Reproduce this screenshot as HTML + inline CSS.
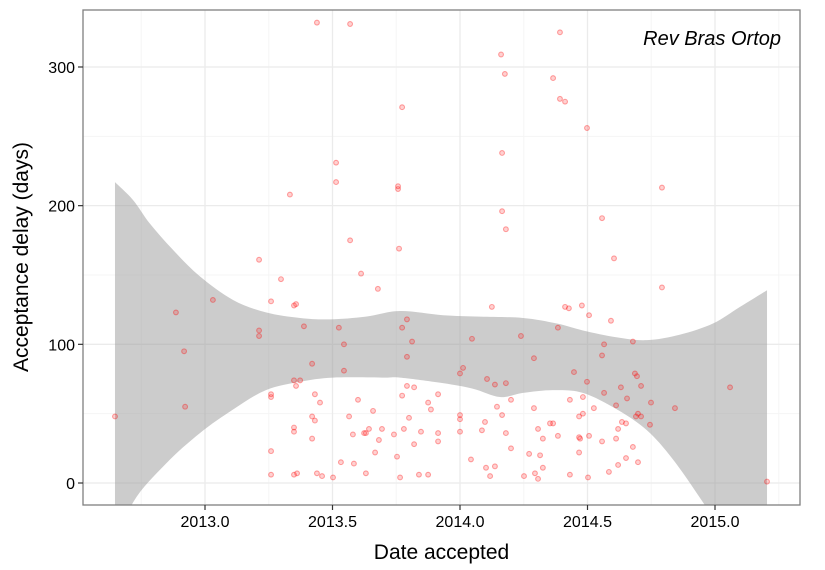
<!DOCTYPE html>
<html><head><meta charset="utf-8"><style>
html,body{margin:0;padding:0;background:#fff;width:825px;height:570px;overflow:hidden}
svg{display:block;font-family:"Liberation Sans",sans-serif}
</style></head><body>
<svg id="chart" width="825" height="570"></svg>
<script>
const pointYears=[2012.647,2012.886,2012.918,2012.922,2013.031,2013.212,2013.212,2013.212,2013.259,2013.259,2013.259,2013.259,2013.259,2013.298,2013.333,2013.349,2013.349,2013.357,2013.373,2013.388,2013.349,2013.357,2013.361,2013.349,2013.349,2013.420,2013.420,2013.420,2013.431,2013.439,2013.439,2013.451,2013.459,2013.514,2013.514,2013.525,2013.533,2013.545,2013.545,2013.565,2013.569,2013.569,2013.580,2013.584,2013.600,2013.612,2013.624,2013.631,2013.631,2013.643,2013.659,2013.667,2013.678,2013.682,2013.694,2013.741,2013.753,2013.757,2013.757,2013.761,2013.765,2013.773,2013.773,2013.773,2013.780,2013.792,2013.792,2013.792,2013.800,2013.812,2013.820,2013.820,2013.839,2013.847,2013.875,2013.875,2013.886,2013.914,2013.914,2013.914,2013.502,2013.431,
2014.392,2014.161,2014.176,2014.365,2014.392,2014.412,2014.498,2014.165,2014.792,2014.165,2014.557,2014.180,2014.604,2014.792,2014.125,2014.412,2014.427,2014.478,2014.506,2014.592,2014.384,2014.239,2014.047,2014.565,2014.678,2014.290,2014.557,2014.012,2014.000,2014.447,2014.106,2014.137,2014.180,2014.498,2014.686,2014.694,2014.631,2014.710,2015.059,2014.565,2014.200,2014.431,2014.482,2014.655,2014.749,2014.145,2014.290,2014.525,2014.612,2014.843,2014.000,2014.000,2014.165,2014.467,2014.482,2014.690,2014.698,2014.710,2014.098,2014.353,2014.365,2014.635,2014.651,2014.000,2014.086,2014.180,2014.306,2014.384,2014.467,2014.471,2014.506,2014.620,2014.745,2014.325,2014.557,2014.612,2014.200,2014.678,2014.467,2014.271,2014.314,2014.043,2014.698,2014.651,2014.620,2014.102,2014.137,2014.325,2014.584,2014.118,2014.251,2014.294,2014.306,2014.431,2014.502,2015.204];
const pointDays=[48,123,95,55,132,161,110,106,131,64,62,23,6,147,208,128,6,129,74,113,74,70,7,40,37,86,48,32,64,332,7,58,5,231,217,112,15,100,81,48,331,175,35,14,60,151,36,36,7,39,52,22,140,31,39,35,19,214,212,169,4,271,112,63,39,118,91,70,47,102,69,28,6,37,58,6,53,64,36,30,4,45,
325,309,295,292,277,275,256,238,213,196,191,183,162,141,127,127,126,128,121,117,112,106,104,100,102,90,92,83,79,80,75,71,72,73,79,77,69,70,69,65,60,60,62,61,58,55,54,54,56,54,49,46,49,48,50,48,50,48,44,43,43,44,43,37,38,36,39,34,33,32,34,39,42,32,30,32,25,26,22,21,20,17,15,18,13,11,12,11,8,5,5,7,3,6,4,1];
const ribbonX=[2012.647,2012.718,2012.784,2012.875,2012.980,2013.110,2013.239,2013.373,2013.490,2013.631,2013.765,2013.933,2014.078,2014.247,2014.380,2014.482,2014.616,2014.733,2014.863,2014.992,2015.098,2015.204];
const ribbonUpper=[217,204,187,168,149,132,123,119,118,120,124,121,120,119,115,110,105,103,107,115,127,139];
const ribbonLowerX=[2012.647,2012.718,2012.847,2012.980,2013.110,2013.239,2013.373,2013.502,2013.698,2013.765,2013.933,2014.051,2014.157,2014.247,2014.365,2014.482,2014.616,2014.733,2014.835,2014.953,2015.098,2015.204];
const ribbonLower=[-50,-14,14,36,53,67,73,76,76,76,72,68,62,65,67,65,53,38,17,-14,-55,-100];
const xTicks=[2013.0,2013.5,2014.0,2014.5,2015.0];
const xTickLabels=["2013.0","2013.5","2014.0","2014.5","2015.0"];
const yTicks=[0,100,200,300];
const yTickLabels=["0","100","200","300"];
const xMinor=[2012.75,2013.25,2013.75,2014.25,2014.75,2015.25];
const yMinor=[50,150,250];

const NS="http://www.w3.org/2000/svg";
const svg=document.getElementById('chart');
const L=83,R=800,T=10,B=505;
const xs=v=>205+(v-2013)*255;
const ys=v=>483-v*1.3867;
function mk(tag,attrs,parent){const e=document.createElementNS(NS,tag);for(const k in attrs)e.setAttribute(k,attrs[k]);(parent||svg).appendChild(e);return e;}
function smooth(pts,start){let s=start?'M'+pts[0][0]+','+pts[0][1]:'L'+pts[0][0]+','+pts[0][1];
for(let i=0;i<pts.length-1;i++){const p0=pts[Math.max(0,i-1)],p1=pts[i],p2=pts[i+1],p3=pts[Math.min(pts.length-1,i+2)];
const c1=[p1[0]+(p2[0]-p0[0])/6,p1[1]+(p2[1]-p0[1])/6],c2=[p2[0]-(p3[0]-p1[0])/6,p2[1]-(p3[1]-p1[1])/6];
s+='C'+c1[0]+','+c1[1]+' '+c2[0]+','+c2[1]+' '+p2[0]+','+p2[1];}return s;}
const defs=mk('defs',{});
const cp=mk('clipPath',{id:'clip'},defs);
mk('rect',{x:L,y:T,width:R-L,height:B-T},cp);
xMinor.forEach(v=>{const l=mk('line',{x1:xs(v),x2:xs(v),y1:T,y2:B,stroke:'#f5f5f5','stroke-width':1,'clip-path':'url(#clip)'});

});
yMinor.forEach(v=>{const l=mk('line',{x1:L,x2:R,y1:ys(v),y2:ys(v),stroke:'#f5f5f5','stroke-width':1});

});
xTicks.forEach(v=>{const l=mk('line',{x1:xs(v),x2:xs(v),y1:T,y2:B,stroke:'#ebebeb','stroke-width':1.3});

});
yTicks.forEach(v=>{const l=mk('line',{x1:L,x2:R,y1:ys(v),y2:ys(v),stroke:'#ebebeb','stroke-width':1.3});

});
const up=ribbonX.map((v,i)=>[xs(v),ys(ribbonUpper[i])]);
const lo=ribbonLowerX.map((v,i)=>[xs(v),ys(ribbonLower[i])]).reverse();
let d=smooth(up,true)+'L'+up[up.length-1][0]+','+lo[0][1]+smooth(lo,false).replace(/^L[^C]*/,'')+'Z';
const rib=mk('path',{d:d,fill:'#999','fill-opacity':0.5,'clip-path':'url(#clip)'});


const g=mk('g',{'clip-path':'url(#clip)'});


pointYears.forEach((v,i)=>{const c=mk('circle',{cx:xs(v),cy:ys(pointDays[i]),r:2.4,fill:'rgba(255,0,0,0.18)',stroke:'rgba(255,0,0,0.35)','stroke-width':1.1},g);

});
const bd=mk('rect',{x:L,y:T,width:R-L,height:B-T,fill:'none',stroke:'#7f7f7f','stroke-width':1.3});


xTicks.forEach((v,i)=>{const t=mk('line',{x1:xs(v),x2:xs(v),y1:B,y2:B+5,stroke:'#333','stroke-width':1.2});


const tx=mk('text',{x:xs(v),y:B+22,'text-anchor':'middle','font-size':16,fill:'#000'});tx.textContent=xTickLabels[i];

});
yTicks.forEach((v,i)=>{const t=mk('line',{x1:L-5,x2:L,y1:ys(v),y2:ys(v),stroke:'#333','stroke-width':1.2});


const tx=mk('text',{x:L-8,y:ys(v)+6,'text-anchor':'end','font-size':16,fill:'#000'});tx.textContent=yTickLabels[i];

});
const xt=mk('text',{x:441.5,y:559,'text-anchor':'middle','font-size':21});xt.textContent='Date accepted';


const yt=mk('text',{x:0,y:0,'text-anchor':'middle','font-size':21,transform:'translate(28,257) rotate(-90)'});yt.textContent='Acceptance delay (days)';


const lab=mk('text',{x:781,y:45,'text-anchor':'end','font-size':20,'font-style':'italic'});lab.textContent='Rev Bras Ortop';


</script>
</body></html>
